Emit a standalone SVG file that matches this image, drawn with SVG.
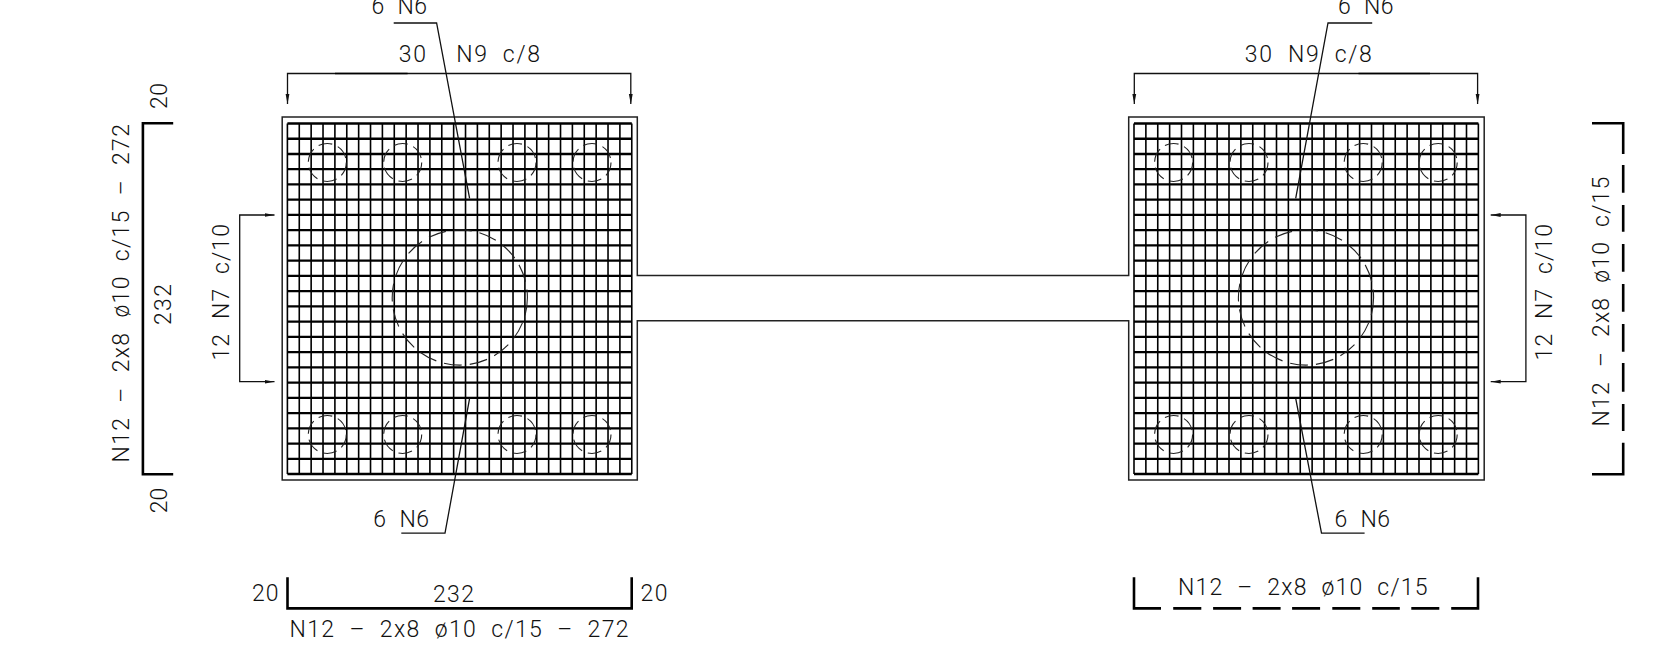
<svg xmlns="http://www.w3.org/2000/svg" width="1663" height="655" viewBox="0 0 1663 655">
<style>
.t{font-family:Roboto,"Liberation Sans",sans-serif;font-weight:300;font-size:23px;fill:#111;word-spacing:7px;white-space:pre}
.thin{fill:none;stroke:#111;stroke-width:1.3}
.mid{fill:none;stroke:#000;stroke-width:1.5}
.out{fill:none;stroke:#222;stroke-width:1.5}
.heavy{fill:none;stroke:#000;stroke-width:2.6}
.gv{fill:none;stroke:#000;stroke-width:1.6}
.gh{fill:none;stroke:#000;stroke-width:2.3}
.cs{fill:none;stroke:#222;stroke-width:1.1;stroke-dasharray:14 6}
.cb{fill:none;stroke:#222;stroke-width:1.1;stroke-dasharray:18 8}
</style>
<defs>
<marker id="ah" markerUnits="userSpaceOnUse" markerWidth="10" markerHeight="5" refX="10" refY="2.5" orient="auto-start-reverse"><path d="M0 0.6L10 2.5L0 4.4Z" fill="#111"/></marker>
<g id="grid">
<path class="gv" d="M0 0V350.6M11.875 0V350.6M23.75 0V350.6M35.625 0V350.6M47.5 0V350.6M59.375 0V350.6M71.25 0V350.6M83.125 0V350.6M95 0V350.6M106.875 0V350.6M118.75 0V350.6M130.625 0V350.6M142.5 0V350.6M154.375 0V350.6M166.25 0V350.6M178.125 0V350.6M190 0V350.6M201.875 0V350.6M213.75 0V350.6M225.625 0V350.6M237.5 0V350.6M249.375 0V350.6M261.25 0V350.6M273.125 0V350.6M285 0V350.6M296.875 0V350.6M308.75 0V350.6M320.625 0V350.6M332.5 0V350.6M344.375 0V350.6"/>
<path class="gh" d="M0 0H344.4M0 15.24H344.4M0 30.48H344.4M0 45.72H344.4M0 60.96H344.4M0 76.2H344.4M0 91.44H344.4M0 106.68H344.4M0 121.92H344.4M0 137.16H344.4M0 152.4H344.4M0 167.64H344.4M0 182.88H344.4M0 198.12H344.4M0 213.36H344.4M0 228.6H344.4M0 243.84H344.4M0 259.08H344.4M0 274.32H344.4M0 289.56H344.4M0 304.8H344.4M0 320.04H344.4M0 335.28H344.4M0 350.52H344.4"/>
</g>
</defs>
<rect width="1663" height="655" fill="#fff"/>
<g id="outline"><path class="out" d="M637.3 275.4V117H282.2V480H637.3V320.7H1128.7V480H1484.2V117H1128.7V275.4Z"/></g>
<g id="block-left">
<use href="#grid" x="287.4" y="123.5"/>
<circle class="cb" cx="459.8" cy="297.5" r="67.6"/>
<circle class="cs" cx="327.3" cy="162.5" r="19"/><circle class="cs" cx="402.7" cy="162.5" r="19"/><circle class="cs" cx="517" cy="162.5" r="19"/><circle class="cs" cx="592" cy="162.5" r="19"/>
<circle class="cs" cx="327.3" cy="434.5" r="19"/><circle class="cs" cx="402.7" cy="434.5" r="19"/><circle class="cs" cx="517" cy="434.5" r="19"/><circle class="cs" cx="592" cy="434.5" r="19"/>
</g>
<g id="block-right">
<use href="#grid" x="1134" y="123.5"/>
<circle class="cb" cx="1306" cy="297.5" r="67.6"/>
<circle class="cs" cx="1173.6" cy="162.5" r="19"/><circle class="cs" cx="1249" cy="162.5" r="19"/><circle class="cs" cx="1363.2" cy="162.5" r="19"/><circle class="cs" cx="1438.2" cy="162.5" r="19"/>
<circle class="cs" cx="1173.6" cy="434.5" r="19"/><circle class="cs" cx="1249" cy="434.5" r="19"/><circle class="cs" cx="1363.2" cy="434.5" r="19"/><circle class="cs" cx="1438.2" cy="434.5" r="19"/>
</g>
<g id="connectors">
<path class="thin" d="M393.7 23H436.6L469.6 198.3"/>
<path class="thin" d="M469.6 398.3L445 533.2H401.3"/>
<path class="thin" d="M1372.2 23H1328L1295.7 198.3"/>
<path class="thin" d="M1295.7 398.3L1321.5 533.2H1364.6"/>
<path class="thin" d="M287.5 104V73.5H630.8V104" marker-start="url(#ah)" marker-end="url(#ah)"/>
<path class="mid" d="M335 73.5H407.6"/>
<path class="thin" d="M1134.3 104V73.5H1477.6V104" marker-start="url(#ah)" marker-end="url(#ah)"/>
<path class="mid" d="M1358.5 73.5H1430"/>
<path class="thin" d="M274.5 215H239.7V381.7H274.5" marker-start="url(#ah)" marker-end="url(#ah)"/>
<path class="thin" d="M1490.7 215H1525.9V381.7H1490.7" marker-start="url(#ah)" marker-end="url(#ah)"/>
</g>
<g id="bar-left-elevation"><path class="heavy" d="M173.2 123.2H142.9V474.2H173.2"/></g>
<g id="bar-bottom-elevation"><path class="heavy" d="M287.5 577.3V608.4H631.7V577.3"/></g>
<g id="bar-right-elevation"><path class="heavy" d="M1592 123.2H1623.2V154M1623.2 165V192.7M1623.2 205V231.7M1623.2 244V271.7M1623.2 284V311.7M1623.2 324V351.7M1623.2 363V391.7M1623.2 404V431M1623.2 442.7V474.2H1592"/></g>
<g id="bar-bottom-right"><path class="heavy" d="M1134 577.3V608.4H1161M1173.2 608.4H1201.3M1213.1 608.4H1241.1M1252.6 608.4H1280.6M1292.1 608.4H1320.1M1332.3 608.4H1360.3M1372.2 608.4H1399.8M1411.3 608.4H1439.3M1451.2 608.4H1478V577.3"/></g>
<g id="labels">
<text class="t" x="371.4" y="13.5" textLength="55.6">6 N6</text>
<text class="t" x="1338" y="13.5" textLength="55.4">6 N6</text>
<text class="t" x="373.2" y="526.8" textLength="55.8">6 N6</text>
<text class="t" x="1334.5" y="526.8" textLength="55.5">6 N6</text>
<text class="t" x="398.7" y="62" textLength="141.3">30  N9 c/8</text>
<text class="t" x="1244.7" y="62" textLength="127.1">30 N9 c/8</text>
<text class="t" x="252" y="600.6" textLength="26.6">20</text>
<text class="t" x="433" y="601.6" textLength="41">232</text>
<text class="t" x="640.6" y="600.6" textLength="26.8">20</text>
<text class="t" x="289.5" y="637" textLength="339.1">N12 – 2x8 ø10 c/15 – 272</text>
<text class="t" x="1178" y="595" textLength="249.5">N12 – 2x8 ø10 c/15</text>
<text class="t" transform="rotate(-90 129 462.5)" x="129" y="462.5" textLength="338.5">N12 – 2x8 ø10 c/15 – 272</text>
<text class="t" transform="rotate(-90 171.4 325)" x="171.4" y="325" textLength="41">232</text>
<text class="t" transform="rotate(-90 167.4 109)" x="167.4" y="109" textLength="26">20</text>
<text class="t" transform="rotate(-90 167.4 513.3)" x="167.4" y="513.3" textLength="25.5">20</text>
<text class="t" transform="rotate(-90 229 360.5)" x="229" y="360.5" textLength="136.5">12 N7 c/10</text>
<text class="t" transform="rotate(-90 1552.4 360.5)" x="1552.4" y="360.5" textLength="136.5">12 N7 c/10</text>
<text class="t" transform="rotate(-90 1609 426.5)" x="1609" y="426.5" textLength="249.8">N12 – 2x8 ø10 c/15</text>
</g>
</svg>
